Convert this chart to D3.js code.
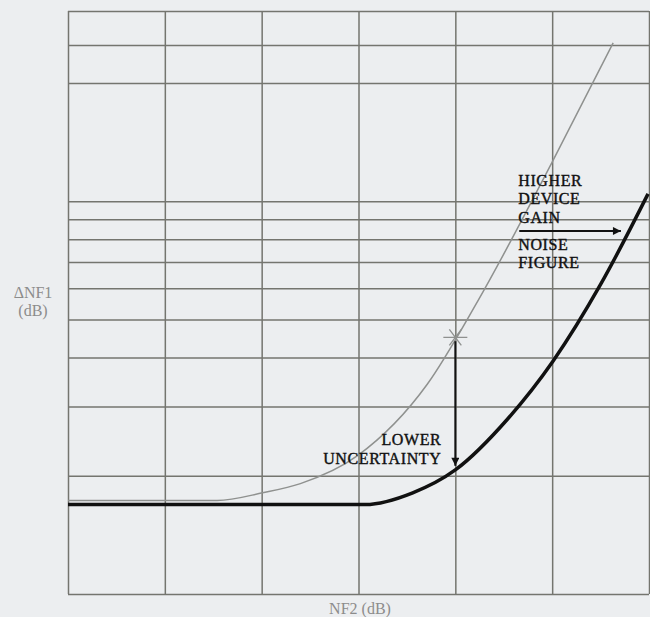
<!DOCTYPE html>
<html>
<head>
<meta charset="utf-8">
<script src="https://cdn.jsdelivr.net/npm/d3@7"></script>
<style>
  html, body { margin: 0; padding: 0; background: #eceef0; }
  svg { display: block; font-family: "Liberation Serif", serif; }
</style>
</head>
<body>
<div id="chart"></div>
<script>
// NF2 (dB) grid columns, unlabeled in the original
var xGrid = [0, 1, 2, 3, 4, 5, 6];
// ΔNF1 (dB) log grid lines
var yGrid = [0.1, 0.2, 0.3, 0.4, 0.5, 0.6, 0.7, 0.8, 0.9, 1, 2, 2.5, 3.05];

// thin gray curve (lower device gain)
var grayX = [0, 1.54, 2.01, 2.40, 2.99, 3.71, 4.23, 5.00, 5.63];
var grayY = [0.173, 0.173, 0.181, 0.191, 0.225, 0.342, 0.556, 1.258, 2.53];

// thick black curve (higher device gain)
var blackX = [0, 3.07, 3.56, 4.00, 4.54, 5.01, 5.50, 5.99];
var blackY = [0.169, 0.169, 0.181, 0.207, 0.279, 0.392, 0.614, 1.044];

var crossPoint = [4.0, 0.45];
var downArrow = [[4.0, 0.44], [4.0, 0.212]];
var rightArrow = [[4.66, 0.84], [5.71, 0.84]];

var gainLabel = ["HIGHER", "DEVICE", "GAIN"];
var noiseLabel = ["NOISE", "FIGURE"];
var lowerLabel = ["LOWER", "UNCERTAINTY"];

var width = 650, height = 617;

var x = d3.scaleLinear().domain([0, 6]).range([68, 649]);
var y = d3.scaleLog().domain([0.1, 3.05]).range([594, 11]);

var svg = d3.select("#chart")
  .append("svg")
  .attr("width", width)
  .attr("height", height);

svg.append("rect")
  .attr("width", width)
  .attr("height", height)
  .style("fill", "#eceef0");

var defs = svg.append("defs");
defs.append("marker")
  .attr("id", "head")
  .attr("viewBox", "0 0 10 10")
  .attr("refX", 10)
  .attr("refY", 5)
  .attr("markerUnits", "userSpaceOnUse")
  .attr("markerWidth", 12)
  .attr("markerHeight", 8)
  .attr("orient", "auto")
  .append("path")
  .attr("d", "M0,0 L10,5 L0,10 Z")
  .style("fill", "#111");

// grid via axes with full length ticks
var gridColor = "#74756f";

var xAxis = svg.append("g")
  .attr("transform", "translate(0," + y.range()[0] + ")")
  .call(d3.axisBottom(x).tickValues(xGrid).tickSize(-(y.range()[0] - y.range()[1])).tickFormat(""));

var yAxis = svg.append("g")
  .attr("transform", "translate(" + x.range()[0] + ",0)")
  .call(d3.axisLeft(y).tickValues(yGrid).tickSize(-(x.range()[1] - x.range()[0])).tickFormat(""));

[xAxis, yAxis].forEach(function(g) {
  g.select(".domain").remove();
  g.selectAll("line")
    .style("stroke", gridColor)
    .style("stroke-width", 1.5);
});

var line = d3.line()
  .x(function(d) { return x(d[0]); })
  .y(function(d) { return y(d[1]); })
  .curve(d3.curveMonotoneX);

svg.append("path")
  .datum(d3.zip(grayX, grayY))
  .attr("d", line)
  .style("fill", "none")
  .style("stroke", "#8f918f")
  .style("stroke-width", 1.5);

svg.append("path")
  .datum(d3.zip(blackX, blackY))
  .attr("d", line)
  .style("fill", "none")
  .style("stroke", "#111")
  .style("stroke-width", 3.5);

// star marker where the gray curve is read
var cx = x(crossPoint[0]), cy = y(crossPoint[1]);
svg.append("path")
  .attr("d", "M" + (cx - 12) + "," + cy + "H" + (cx + 12) +
    "M" + (cx - 6) + "," + (cy - 8) + "L" + (cx + 6) + "," + (cy + 8) +
    "M" + (cx + 6) + "," + (cy - 8) + "L" + (cx - 6) + "," + (cy + 8))
  .style("stroke", "#8f918f")
  .style("stroke-width", 1.3)
  .style("fill", "none");

var straight = d3.line()
  .x(function(d) { return x(d[0]); })
  .y(function(d) { return y(d[1]); });

[downArrow, rightArrow].forEach(function(a) {
  svg.append("path")
    .attr("d", straight(a))
    .style("stroke", "#111")
    .style("stroke-width", 2)
    .style("fill", "none")
    .attr("marker-end", "url(#head)");
});

// annotations, one text block each with a tspan per line
function label(data, ax, ay, step, anchor) {
  svg.append("text")
    .attr("x", ax)
    .attr("y", ay)
    .attr("text-anchor", anchor)
    .style("font-size", "16px")
    .style("letter-spacing", "0.6px")
    .style("fill", "#111")
    .style("stroke", "#111")
    .style("stroke-width", 0.4)
    .selectAll("tspan").data(data)
    .enter().append("tspan")
    .attr("x", ax)
    .attr("dy", function(d, i) { return i === 0 ? 0 : step; })
    .text(function(d) { return d; });
}

var gx = x(rightArrow[0][0]) - 1, gy = y(rightArrow[0][1]);
label(gainLabel, gx, gy - 45, 18.5, "start");
label(noiseLabel, gx, gy + 19, 18.5, "start");

var lx = x(downArrow[0][0]) - 14, ly = y(downArrow[1][1]);
label(lowerLabel, lx, ly - 21, 19, "end");

// axis titles
svg.append("text")
  .attr("x", 33).attr("y", 298)
  .attr("text-anchor", "middle")
  .style("font-size", "16px")
  .style("fill", "#8c8c8c")
  .selectAll("tspan").data(["ΔNF1", "(dB)"])
  .enter().append("tspan")
  .attr("x", 33)
  .attr("dy", function(d, i) { return i === 0 ? 0 : 18; })
  .text(function(d) { return d; });

svg.append("text")
  .attr("x", 360).attr("y", 614)
  .attr("text-anchor", "middle")
  .text("NF2 (dB)")
  .style("font-size", "16px")
  .style("fill", "#8c8c8c");
</script>
</body>
</html>
